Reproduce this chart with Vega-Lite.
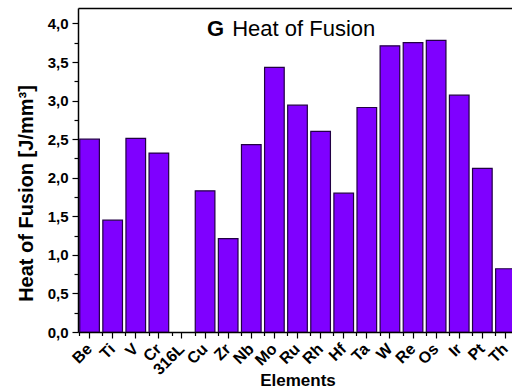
{
  "$schema": "https://vega.github.io/schema/vega-lite/v6.json",
  "width": 434,
  "height": 324,
  "autosize": {"type": "none"},
  "padding": {"left": 78, "top": 8, "right": 0, "bottom": 57},
  "config": {"view": {"stroke": null}, "font": "Liberation Sans"},
  "data": {
    "values": [
      {"element": "Be", "value": 2.50},
      {"element": "Ti", "value": 1.45},
      {"element": "V", "value": 2.51},
      {"element": "Cr", "value": 2.32},
      {"element": "316L", "value": null},
      {"element": "Cu", "value": 1.83},
      {"element": "Zr", "value": 1.21},
      {"element": "Nb", "value": 2.43},
      {"element": "Mo", "value": 3.43},
      {"element": "Ru", "value": 2.94},
      {"element": "Rh", "value": 2.60},
      {"element": "Hf", "value": 1.80},
      {"element": "Ta", "value": 2.91},
      {"element": "W", "value": 3.71},
      {"element": "Re", "value": 3.75},
      {"element": "Os", "value": 3.78},
      {"element": "Ir", "value": 3.07},
      {"element": "Pt", "value": 2.12},
      {"element": "Th", "value": 0.82}
    ]
  },
  "resolve": {"axis": {"x": "independent", "y": "independent"}},
  "layer": [
    {
      "mark": {"type": "bar", "fill": "#7f00ff", "stroke": "#220044", "strokeWidth": 1.2, "clip": true},
      "encoding": {
        "x": {
          "field": "element", "type": "nominal", "sort": null,
          "scale": {"domain": ["Be","Ti","V","Cr","316L","Cu","Zr","Nb","Mo","Ru","Rh","Hf","Ta","W","Re","Os","Ir","Pt","Th"], "range": [0, 439], "paddingInner": 0.15, "paddingOuter": 0.075},
          "axis": {
            "orient": "bottom", "title": "Elements", "titleFontSize": 17, "titleFontWeight": "bold", "titleColor": "black",
            "titleBaseline": "alphabetic", "titleY": 53.5,
            "labelAngle": -45, "labelAlign": "right", "labelBaseline": "middle", "labelFontSize": 16, "labelFontWeight": "bold", "labelColor": "black", "labelPadding": 8,
            "tickSize": 6, "tickColor": "black", "tickWidth": 1.2, "domainColor": "black", "domainWidth": 1.5, "grid": false
          }
        },
        "y": {
          "field": "value", "type": "quantitative",
          "scale": {"domain": [0, 4.2], "nice": false},
          "axis": {
            "orient": "left", "title": "Heat of Fusion [J/mm³]", "titleFontSize": 20, "titleFontWeight": "bold", "titleColor": "black",
            "titleAngle": -90, "titleAlign": "center", "titleBaseline": "alphabetic", "titleX": -46, "titleY": 185,
            "values": [0,0.25,0.5,0.75,1,1.25,1.5,1.75,2,2.25,2.5,2.75,3,3.25,3.5,3.75,4],
            "labelExpr": "datum.value % 0.5 === 0 ? replace(format(datum.value, '.1f'), '.', ',') : ''",
            "labelFontSize": 15, "labelFontWeight": "bold", "labelColor": "black", "labelPadding": 4,
            "tickSize": {"condition": {"test": "datum.value % 0.5 === 0", "value": 6}, "value": 4},
            "tickColor": "black", "tickWidth": 1.2, "domainColor": "black", "domainWidth": 1.5, "grid": false
          }
        }
      }
    },
    {
      "mark": {"type": "bar", "opacity": 0},
      "encoding": {
        "x": {
          "field": "element", "type": "nominal", "sort": null,
          "axis": {"orient": "bottom", "title": null, "labels": false, "domain": false, "bandPosition": 0, "tickSize": 3.5, "tickColor": "black", "tickWidth": 1.2, "grid": false}
        },
        "y": {"field": "value", "type": "quantitative", "axis": null}
      }
    },
    {
      "mark": {"type": "bar", "opacity": 0},
      "encoding": {
        "x": {
          "field": "element", "type": "nominal", "sort": null,
          "axis": {"orient": "top", "title": null, "labels": false, "ticks": false, "domain": true, "domainColor": "black", "domainWidth": 1.5, "grid": false}
        },
        "y": {"field": "value", "type": "quantitative", "axis": null}
      }
    },
    {
      "data": {"values": [{"label": "G"}]},
      "mark": {"type": "text", "font": "Liberation Sans", "fontSize": 22, "fontWeight": "bold", "align": "right", "baseline": "alphabetic", "dx": -4, "color": "black"},
      "encoding": {
        "text": {"field": "label"},
        "x": {"datum": "Zr", "type": "nominal", "axis": null},
        "y": {"datum": 3.84, "type": "quantitative", "axis": null}
      }
    },
    {
      "data": {"values": [{"label": "Heat of Fusion"}]},
      "mark": {"type": "text", "font": "Liberation Sans", "fontSize": 22, "fontWeight": "normal", "align": "left", "baseline": "alphabetic", "dx": 4, "color": "black"},
      "encoding": {
        "text": {"field": "label"},
        "x": {"datum": "Zr", "type": "nominal", "axis": null},
        "y": {"datum": 3.84, "type": "quantitative", "axis": null}
      }
    }
  ]
}
